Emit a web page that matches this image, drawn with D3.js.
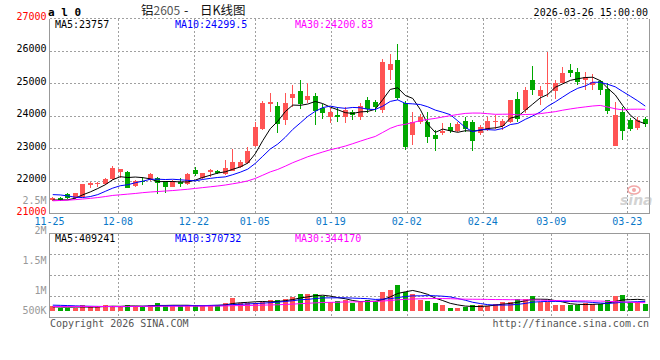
<!DOCTYPE html>
<html><head><meta charset="utf-8">
<script src="https://cdn.jsdelivr.net/npm/d3@7"></script>
<style>body{margin:0;background:#fff}svg{display:block}</style>
</head><body><svg id="c" width="660" height="360"></svg>
<script>
const dates = ["11-25","11-26","11-27","11-28","12-01","12-02","12-03","12-04","12-05","12-08",
"12-09","12-10","12-11","12-12","12-15","12-16","12-17","12-18","12-19","12-22",
"12-23","12-24","12-25","12-26","12-29","12-30","12-31","01-05","01-06","01-07",
"01-08","01-09","01-12","01-13","01-14","01-15","01-16","01-19","01-20","01-21",
"01-22","01-23","01-26","01-27","01-28","01-29","01-30","02-02","02-03","02-04",
"02-05","02-06","02-09","02-10","02-11","02-12","02-13","02-24","02-25","02-26",
"02-27","03-02","03-03","03-04","03-05","03-06","03-09","03-10","03-11","03-12",
"03-13","03-16","03-17","03-18","03-19","03-20","03-23","03-24","03-25","03-26"];
const opens = [21415,21470,21610,21465,21515,21875,21915,21905,22050,22265,
22285,21845,22010,22030,22100,21980,21825,21980,21895,22335,
22080,22285,22315,22215,22315,22420,22540,23075,23585,24375,
24305,23875,24540,24765,24485,24610,24250,23955,24025,23955,
24110,23975,24485,24435,24180,25410,25720,24395,23410,23820,
23820,23410,23485,23650,23545,23840,23820,23465,23565,23840,
23690,23820,24510,24180,25100,24610,24990,24775,25000,25410,
25340,25100,24950,25080,24815,23075,24130,23875,23615,23895];
const highs = [21520,21500,21640,21640,21920,21960,21980,22080,22460,22380,
22315,22030,22110,22235,22130,22010,22030,22080,22235,22440,
22255,22355,22335,22645,22980,22650,23035,23800,24450,24695,
24435,24695,24950,25100,25020,24695,24350,24230,24280,24280,
24180,24395,24590,24485,25750,25900,26220,24450,24130,24050,
24130,23565,23770,23770,23800,23950,23875,23720,23950,24025,
23890,24490,24720,24900,25530,24915,25970,25100,25510,25595,
25460,25355,25300,25100,25000,24435,24280,23920,23950,23955];
const lows = [21380,21380,21460,21440,21500,21775,21805,21875,22030,22080,
21775,21805,21875,22000,21590,21640,21800,21825,21875,22150,
22050,22130,22215,22185,22300,22390,22520,23050,23560,24130,
23465,23720,24280,24200,24405,23720,23900,23770,23820,23770,
23875,23875,24080,24130,24080,25100,24500,22950,23105,23750,
23155,22920,23410,23465,23500,23500,22930,23400,23520,23585,
23565,23770,23820,24080,24640,24335,24590,24510,25000,25205,
24950,24795,24800,24640,24055,23075,23260,23520,23560,23650];
const closes = [21485,21400,21470,21620,21895,21925,21925,22050,22390,22365,
21795,22000,21960,22205,21925,21825,22000,21895,22205,22205,
22235,22335,22235,22390,22595,22595,22930,23665,24405,24425,
23750,24405,24670,24365,24620,24150,24080,24130,23955,24180,
24025,24310,24210,24280,25665,25595,24560,23035,23820,23975,
23340,23290,23545,23545,23750,23585,23235,23650,23840,23845,
23840,24485,23895,24795,24795,24795,25000,25000,25325,25325,
25050,25185,25050,24795,24160,24025,23545,23595,23875,23750];
const ma5 = [21415,21415,21420,21470,21574,21662,21767,21883,22037,22131,
22105,22120,22102,22065,21977,21983,21983,21970,21970,22026,
22108,22175,22243,22280,22358,22430,22549,22835,23238,23604,
23835,24130,24331,24323,24362,24442,24377,24269,24187,24099,
24074,24120,24136,24201,24498,24812,24862,24627,24535,24197,
23746,23492,23594,23539,23494,23543,23532,23553,23612,23631,
23682,23932,23981,24172,24362,24553,24656,24877,24983,25089,
25140,25177,25187,25081,24848,24643,24315,24024,23840,23757];
const ma10 = [21580,21570,21540,21500,21490,21520,21580,21680,21780,21853,
21884,21944,21993,22051,22054,22044,22052,22036,22018,22002,
22046,22079,22107,22125,22192,22269,22362,22539,22759,22981,
23133,23340,23583,23781,23983,24139,24254,24300,24255,24231,
24258,24249,24203,24194,24299,24443,24491,24382,24368,24348,
24279,24177,24111,24037,23846,23645,23512,23574,23576,23563,
23613,23732,23767,23892,23997,24118,24294,24429,24578,24726,
24847,24917,25032,25032,24969,24892,24746,24606,24461,24300];
const ma30 = [21390,21400,21410,21425,21445,21465,21490,21520,21555,21575,
21595,21615,21640,21660,21675,21690,21705,21725,21745,21770,
21795,21820,21845,21875,21913,21951,22002,22077,22177,22278,
22354,22454,22561,22652,22743,22817,22889,22958,23011,23071,
23145,23222,23297,23367,23491,23617,23702,23740,23794,23853,
23890,23922,23965,24004,24042,24075,24086,24085,24066,24047,
24050,24053,24027,24041,24047,24068,24099,24128,24174,24212,
24246,24275,24303,24320,24270,24218,24184,24203,24205,24201];
const volumesK = [260,223,223,223,282,239,239,282,260,260,
282,239,260,282,325,282,260,260,282,282,
260,297,282,325,462,347,347,347,368,405,
405,440,477,563,542,542,499,368,383,405,
331,368,405,383,608,657,780,600,548,405,
391,334,299,215,215,251,286,299,272,319,
370,370,445,445,508,370,355,299,278,299,
288,339,317,317,400,497,521,353,353,322];
const vma5K = [245,240,238,240,242,238,241,253,260,256,
265,265,260,265,278,278,282,282,282,273,
269,276,281,289,325,343,353,366,374,363,
374,393,419,458,485,513,525,503,467,439,
397,371,378,378,419,484,567,606,639,598,
545,456,395,329,291,263,253,253,265,285,
309,326,355,390,428,428,425,395,362,320,
304,301,304,312,332,374,410,418,425,409];
const vma10K = [285,280,275,268,262,258,255,252,250,249,
251,253,257,263,267,271,273,271,273,275,
273,279,281,286,299,306,314,323,332,344,
359,373,392,416,424,444,459,461,462,462,
455,448,441,423,429,441,469,492,509,509,
515,511,501,484,444,404,354,324,297,288,
286,290,304,327,357,368,375,375,376,374,
366,363,350,337,326,339,356,361,368,371];
const vma30K = [252,252,252,252,252,253,253,253,253,253,
254,254,255,256,257,258,258,259,259,260,
261,262,263,266,272,275,278,281,285,290,
294,302,310,321,330,340,349,352,356,361,
362,367,371,375,384,397,414,425,434,438,
443,444,444,441,433,429,427,426,423,420,
419,416,415,411,410,404,400,397,394,390,
389,388,385,383,376,370,362,354,347,344];
const xTickLabels = ["11-25","12-08","12-22","01-05","01-19","02-02","02-24","03-09","03-23"];
const priceTicks = [21000,22000,23000,24000,25000,26000,27000];
const volTicks = [500000,1000000,1500000,2000000,2500000];
const volTickLabels = ["500K","1M","1.5M","2M","2.5M"];
const priceLegend = [["MA5:","23757"],["MA10:","24299.5"],["MA30:","24200.83"]];
const volLegend = [["MA5:","409241"],["MA10:","370732"],["MA30:","344170"]];
const titleParts = ["铝","2605","-","日K线图"];
const codeText = "a l 0";
const timeText = "2026-03-26 15:00:00";

const UP="#ff5454", DOWN="#00a800", MONO="'DejaVu Sans Mono', monospace";
const lineColors=["#000000","#0000ff","#ff00ff"];
const svg=d3.select("#c");
svg.append("rect").attr("width",660).attr("height",360).attr("fill","#fff");

const L=49.5,R=649.5,T=18.5,B=213.5,VT=233.5,VB=317.5;
const x=d3.scaleBand().domain(dates).range([49,649]).padding(0);
const cx=d=>x(d)+x.bandwidth()/2;
const xt=d3.scaleLinear().domain([0,dates.length-1]).range([49.5,650]);
const y=d3.scaleLinear().domain([21000,27000]).range([213.5,18.2]);
const yv=d3.scaleLinear().domain([144000,2000000]).range([311,234]);
const yvLab=d3.scaleLinear().domain(volTicks).range([314,294,263.7,234.3,204]);

const grid=svg.append("g").attr("stroke","#a0a0a0").attr("stroke-dasharray","2,2").attr("shape-rendering","crispEdges");
priceTicks.filter(v=>v>21000&&v<27000).forEach(v=>{
  const yy=Math.round(y(v))+0.5;
  grid.append("line").attr("x1",L).attr("x2",R).attr("y1",yy).attr("y2",yy);
});
[500000,1000000,1500000].forEach(v=>{
  const yy=Math.floor(yv(v))+0.5;
  grid.append("line").attr("x1",L).attr("x2",R).attr("y1",yy).attr("y2",yy);
});
xTickLabels.forEach(lab=>{
  const idx=dates.indexOf(lab); if(idx<=0) return;
  const xx=Math.round(xt(idx))+0.5;
  grid.append("line").attr("x1",xx).attr("x2",xx).attr("y1",T).attr("y2",B);
  grid.append("line").attr("x1",xx).attr("x2",xx).attr("y1",VT).attr("y2",VB);
});
grid.append("line").attr("x1",L).attr("x2",R).attr("y1",T).attr("y2",T);
const fr=svg.append("g").attr("stroke","#999").attr("fill","none").attr("shape-rendering","crispEdges");
fr.append("path").attr("d",`M${L},${T}V${B}H${R}V${T}`);
fr.append("path").attr("d",`M${L},${VT}H${R}V${VB}H${L}Z`);

const defs=svg.append("defs");
defs.append("clipPath").attr("id","cm").append("rect").attr("x",L+0.5).attr("y",T+0.5).attr("width",R-L-1).attr("height",B-T-1);
defs.append("clipPath").attr("id","cv").append("rect").attr("x",L+0.5).attr("y",VT+0.5).attr("width",R-L-1).attr("height",VB-VT-1);

const wm=svg.append("g").attr("opacity",0.55);
wm.append("ellipse").attr("cx",634).attr("cy",190).attr("rx",6).attr("ry",4).attr("fill","none").attr("stroke","#e86060").attr("stroke-width",1.5);
wm.append("circle").attr("cx",634).attr("cy",190).attr("r",2).attr("fill","#e86060");
wm.append("text").attr("x",620).attr("y",205).attr("font-family","'DejaVu Sans',sans-serif").attr("font-size",14).attr("font-style","italic").attr("font-weight","bold").attr("fill","#b0b0b0").text("sina");

const cg=svg.append("g").attr("clip-path","url(#cm)").attr("shape-rendering","crispEdges");
dates.forEach((d,i)=>{
  const o=opens[i],c=closes[i],h=highs[i],l=lows[i];
  const col=c>=o?UP:DOWN;
  const bx=Math.round(cx(d)-2.5);
  cg.append("line").attr("x1",bx+2.5).attr("x2",bx+2.5).attr("y1",Math.round(y(h))).attr("y2",Math.round(y(l))).attr("stroke",col);
  const top=Math.round(y(Math.max(o,c))), bot=Math.round(y(Math.min(o,c)));
  cg.append("rect").attr("x",bx).attr("y",top).attr("width",5).attr("height",Math.max(1,bot-top)).attr("fill",col);
});
const mg=svg.append("g").attr("clip-path","url(#cm)").attr("fill","none").attr("stroke-width",1);
[ma5,ma10,ma30].forEach((arr,k)=>{
  mg.append("path").attr("d",d3.line().x((v,i)=>cx(dates[i])).y(v=>y(v))(arr)).attr("stroke",lineColors[k]);
});

const vg=svg.append("g").attr("clip-path","url(#cv)").attr("shape-rendering","crispEdges");
dates.forEach((d,i)=>{
  const col=closes[i]>=opens[i]?UP:DOWN;
  const bx=Math.round(cx(d)-2.5);
  const top=Math.round(yv(volumesK[i]*1000));
  vg.append("rect").attr("x",bx).attr("y",top).attr("width",5).attr("height",Math.max(1,yv.range()[0]-top)).attr("fill",col);
});
const vmg=svg.append("g").attr("clip-path","url(#cv)").attr("fill","none");
[vma5K,vma10K,vma30K].forEach((arr,k)=>{
  vmg.append("path").attr("d",d3.line().x((v,i)=>cx(dates[i])).y(v=>yv(v*1000))(arr)).attr("stroke",lineColors[k]);
});

const tx=svg.append("g").attr("font-family",MONO).attr("font-size",10);
priceTicks.forEach(v=>{
  tx.append("text").attr("x",46.5).attr("y",y(v)+1.5).attr("text-anchor","end")
    .attr("fill",(v===21000||v===27000)?"#ff0000":"#000").text(v);
});
volTicks.forEach((v,k)=>{
  tx.append("text").attr("x",46.5).attr("y",yvLab(v)).attr("text-anchor","end").attr("fill","#999").text(volTickLabels[k]);
});
xTickLabels.forEach(lab=>{
  const idx=dates.indexOf(lab);
  tx.append("text").attr("x",xt(idx)).attr("y",224.5).attr("text-anchor","middle").attr("fill","#0a78c8").text(lab);
});
const legX=[55,175,295];
priceLegend.forEach((p,k)=>tx.append("text").attr("x",legX[k]).attr("y",28).attr("fill",lineColors[k]).text(p[0]+p[1]));
volLegend.forEach((p,k)=>tx.append("text").attr("x",legX[k]).attr("y",242).attr("fill",lineColors[k]).text(p[0]+p[1]));
tx.append("text").attr("x",648).attr("y",16).attr("text-anchor","end").attr("fill","#000").text(timeText);
tx.append("text").attr("x",50).attr("y",327).attr("fill","#555").text("Copyright 2026 SINA.COM");
tx.append("text").attr("x",649).attr("y",327).attr("text-anchor","end").attr("fill","#555").text("http://finance.sina.com.cn");
tx.append("text").attr("x",48).attr("y",16).attr("font-size",11).attr("font-weight","bold").attr("fill","#000").text(codeText);
// title: parts placed left to right
const tt=svg.append("text").attr("y",14.5).attr("font-family","'Noto Sans CJK SC',sans-serif").attr("font-size",12.5).attr("fill","#111");
tt.append("tspan").attr("x",141).text(titleParts[0]);
tt.append("tspan").attr("fill","#555").attr("font-size",12).text(titleParts[1]);
tt.append("tspan").attr("x",184).text(titleParts[2]);
tt.append("tspan").attr("x",200).text(titleParts[3]);
</script></body></html>
